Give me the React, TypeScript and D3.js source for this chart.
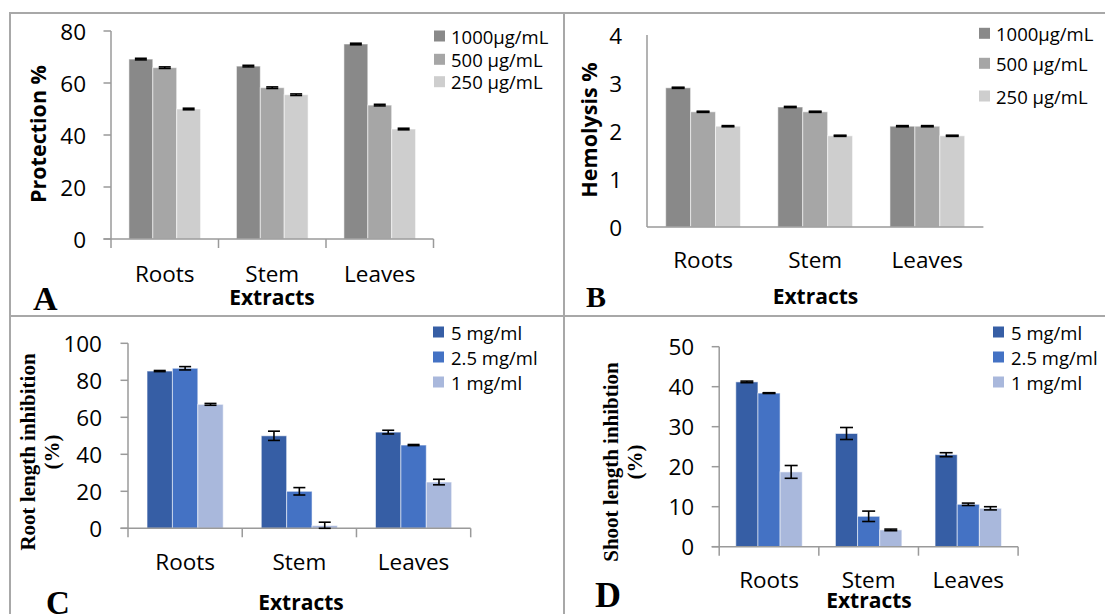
import React from "react";
import * as d3 from "d3";

// Plant part extracts shared by every panel
const extracts = ["Roots", "Stem", "Leaves"];

// A: protection % at three concentrations
const protectionSeries = ["1000µg/mL", "500 µg/mL", "250 µg/mL"];
const protection1000 = [69.2, 66.5, 75.0];
const protection500 = [65.9, 58.2, 51.5];
const protection250 = [50.0, 55.5, 42.3];
const protectionErr = [0.3, 0.3, 0.3];

// B: hemolysis %
const hemolysis1000 = [2.9, 2.5, 2.1];
const hemolysis500 = [2.4, 2.4, 2.1];
const hemolysis250 = [2.1, 1.9, 1.9];
const hemolysisErr = [0.012, 0.012, 0.012];

// C: root length inhibition (%)
const doseSeries = ["5 mg/ml", "2.5 mg/ml", "1 mg/ml"];
const root5 = [85.0, 50.0, 52.0];
const root2_5 = [86.5, 20.0, 45.0];
const root1 = [67.0, 1.5, 25.0];
const root5Err = [0.3, 2.5, 1.0];
const root2_5Err = [0.9, 2.0, 0.3];
const root1Err = [0.5, 1.8, 1.5];

// D: shoot length inhibition (%)
const shoot5 = [41.2, 28.3, 23.0];
const shoot2_5 = [38.4, 7.6, 10.6];
const shoot1 = [18.7, 4.2, 9.6];
const shoot5Err = [0.2, 1.5, 0.5];
const shoot2_5Err = [0.1, 1.3, 0.3];
const shoot1Err = [1.6, 0.2, 0.4];

const greyColors = ["#898989", "#a6a6a6", "#cecece"];
const blueColors = ["#365ea5", "#4472c4", "#a9b8dc"];

const SANS = "'Open Sans', Lato, sans-serif";
const SERIF = "'Liberation Serif', 'DejaVu Serif', serif";

type Series = { name: string; values: number[]; err: number[]; color: string };

type PanelProps = {
  series: Series[];
  left: number;
  right: number;
  top: number;
  bottom: number;
  yMax: number;
  yStep: number;
  showTicks: boolean;
  tickLabelGap: number;
  catLabelDy: number;
  capWidth: number;
  legendX: number;
  legendY: number[];
  legendTextX: number;
};

function BarPanel(p: PanelProps) {
  const x0 = d3.scaleBand<string>().domain(extracts).range([p.left, p.right]).padding(0);
  const x1 = d3
    .scaleBand<string>()
    .domain(p.series.map((s) => s.name))
    .range([0, x0.bandwidth()])
    .paddingInner(0)
    .paddingOuter(0.75);
  const y = d3.scaleLinear().domain([0, p.yMax]).range([p.bottom, p.top]);
  const yTicks = d3.range(0, p.yMax + p.yStep / 2, p.yStep);
  const tickLen = p.showTicks ? 7.5 : 0;
  const axisColor = "#9a9a9a";
  const catEdges = [...extracts.map((c) => x0(c)!), p.right];

  return (
    <g>
      {/* bars */}
      {p.series.map((s) =>
        extracts.map((c, i) => {
          const bx = x0(c)! + x1(s.name)!;
          const by = y(s.values[i]);
          return (
            <rect
              key={s.name + c}
              x={bx}
              y={by}
              width={x1.bandwidth()}
              height={p.bottom - by}
              fill={s.color}
              stroke="#ffffff"
              strokeOpacity={0.55}
              strokeWidth={1}
            />
          );
        })
      )}
      {/* axes */}
      <line x1={p.left} x2={p.left} y1={p.top} y2={p.bottom} stroke={axisColor} strokeWidth={1.5} />
      <line x1={p.left - tickLen} x2={p.right} y1={p.bottom} y2={p.bottom} stroke={axisColor} strokeWidth={1.5} />
      {p.showTicks &&
        yTicks.map((t) => (
          <line key={"yt" + t} x1={p.left - tickLen} x2={p.left} y1={y(t)} y2={y(t)} stroke={axisColor} strokeWidth={1.5} />
        ))}
      {p.showTicks &&
        catEdges.map((cx, i) => (
          <line key={"xt" + i} x1={cx} x2={cx} y1={p.bottom} y2={p.bottom + 9} stroke={axisColor} strokeWidth={1.5} />
        ))}
      {/* error bars */}
      {p.series.map((s) =>
        extracts.map((c, i) => {
          const cx = x0(c)! + x1(s.name)! + x1.bandwidth() / 2;
          const hi = y(s.values[i] + s.err[i]);
          const lo = y(Math.max(0, s.values[i] - s.err[i]));
          const hw = p.capWidth / 2;
          return (
            <g key={"e" + s.name + c} stroke="#000" strokeWidth={1.6}>
              <line x1={cx} x2={cx} y1={hi} y2={lo} />
              <line x1={cx - hw} x2={cx + hw} y1={hi} y2={hi} />
              <line x1={cx - hw} x2={cx + hw} y1={lo} y2={lo} />
            </g>
          );
        })
      )}
      {/* tick labels */}
      {yTicks.map((t) => (
        <text
          key={"yl" + t}
          x={p.left - p.tickLabelGap}
          y={y(t)}
          textAnchor="end"
          dominantBaseline="central"
          fontFamily={SANS}
          fontSize={22.5}
          fill="#000"
        >
          {d3.format("d")(t)}
        </text>
      ))}
      {extracts.map((c) => (
        <text
          key={"xl" + c}
          x={x0(c)! + x0.bandwidth() / 2}
          y={p.bottom + p.catLabelDy}
          textAnchor="middle"
          fontFamily={SANS}
          fontSize={22.5}
          fill="#000"
        >
          {c}
        </text>
      ))}
      {/* legend */}
      {p.series.map((s, i) => (
        <g key={"lg" + s.name}>
          <rect x={p.legendX} y={p.legendY[i] - 5.5} width={11} height={11} fill={s.color} />
          <text
            x={p.legendTextX}
            y={p.legendY[i]}
            dominantBaseline="central"
            fontFamily={SANS}
            fontSize={18.5}
            fill="#000"
          >
            {s.name}
          </text>
        </g>
      ))}
    </g>
  );
}

function mk(names: string[], vals: number[][], errs: number[][], colors: string[]): Series[] {
  return names.map((n, i) => ({ name: n, values: vals[i], err: errs[i], color: colors[i] }));
}

export default function App() {
  const seriesA = mk(protectionSeries, [protection1000, protection500, protection250], [protectionErr, protectionErr, protectionErr], greyColors);
  const seriesB = mk(protectionSeries, [hemolysis1000, hemolysis500, hemolysis250], [hemolysisErr, hemolysisErr, hemolysisErr], greyColors);
  const seriesC = mk(doseSeries, [root5, root2_5, root1], [root5Err, root2_5Err, root1Err], blueColors);
  const seriesD = mk(doseSeries, [shoot5, shoot2_5, shoot1], [shoot5Err, shoot2_5Err, shoot1Err], blueColors);
  const border = "#a8a8a8";

  return (
    <div style={{ position: "absolute", left: 0, top: 0 }}>
      <svg width={1105} height={614} style={{ display: "block", background: "#fff" }}>
        <rect x={0} y={0} width={1105} height={614} fill="#fff" />
        {/* panel frame */}
        <line x1={9} x2={1105} y1={13} y2={13} stroke={border} strokeWidth={2} />
        <line x1={9} x2={1105} y1={316} y2={316} stroke={border} strokeWidth={2} />
        <line x1={10} x2={10} y1={12} y2={614} stroke={border} strokeWidth={2} />
        <line x1={564} x2={564} y1={12} y2={614} stroke={border} strokeWidth={2} />

        {/* A */}
        <BarPanel
          series={seriesA}
          left={111}
          right={433.5}
          top={31}
          bottom={239}
          yMax={80}
          yStep={20}
          showTicks={true}
          tickLabelGap={25}
          catLabelDy={43}
          capWidth={12}
          legendX={434}
          legendY={[36, 59.3, 81.7]}
          legendTextX={451}
        />
        <text transform="translate(37.5,134) rotate(-90)" textAnchor="middle" dominantBaseline="central" fontFamily={SANS} fontWeight="bold" fontSize={21.5}>
          Protection %
        </text>
        <text x={272} y={305} textAnchor="middle" fontFamily={SANS} fontWeight="bold" fontSize={21}>
          Extracts
        </text>
        <text x={33} y={310} fontFamily={SERIF} fontWeight="bold" fontSize={34}>
          A
        </text>

        {/* B */}
        <BarPanel
          series={seriesB}
          left={647}
          right={983.4}
          top={35}
          bottom={227}
          yMax={4}
          yStep={1}
          showTicks={false}
          tickLabelGap={25}
          catLabelDy={41}
          capWidth={13}
          legendX={979}
          legendY={[33.3, 63.3, 96]}
          legendTextX={996}
        />
        <text transform="translate(588,130) rotate(-90)" textAnchor="middle" dominantBaseline="central" fontFamily={SANS} fontWeight="bold" fontSize={21.5}>
          Hemolysis %
        </text>
        <text x={815.5} y={304} textAnchor="middle" fontFamily={SANS} fontWeight="bold" fontSize={21}>
          Extracts
        </text>
        <text x={586} y={307} fontFamily={SERIF} fontWeight="bold" fontSize={30}>
          B
        </text>

        {/* C */}
        <BarPanel
          series={seriesC}
          left={128}
          right={470.7}
          top={343.3}
          bottom={528.3}
          yMax={100}
          yStep={20}
          showTicks={true}
          tickLabelGap={26}
          catLabelDy={42}
          capWidth={12}
          legendX={433}
          legendY={[332, 357, 382]}
          legendTextX={451}
        />
        <text transform="translate(27.9,452) rotate(-90)" textAnchor="middle" dominantBaseline="central" fontFamily={SERIF} fontWeight="bold" fontSize={21}>
          Root length inhibition
        </text>
        <text transform="translate(51.8,452) rotate(-90)" textAnchor="middle" dominantBaseline="central" fontFamily={SERIF} fontWeight="bold" fontSize={21}>
          (%)
        </text>
        <text x={301} y={610} textAnchor="middle" fontFamily={SANS} fontWeight="bold" fontSize={21}>
          Extracts
        </text>
        <text x={46} y={614} fontFamily={SERIF} fontWeight="bold" fontSize={33}>
          C
        </text>

        {/* D */}
        <BarPanel
          series={seriesD}
          left={719.2}
          right={1018.1}
          top={346.7}
          bottom={546.7}
          yMax={50}
          yStep={10}
          showTicks={true}
          tickLabelGap={25}
          catLabelDy={41}
          capWidth={13}
          legendX={993}
          legendY={[332, 357, 382]}
          legendTextX={1011}
        />
        <text transform="translate(611.4,462) rotate(-90)" textAnchor="middle" dominantBaseline="central" fontFamily={SERIF} fontWeight="bold" fontSize={21}>
          Shoot length inhibtion
        </text>
        <text transform="translate(634.7,462) rotate(-90)" textAnchor="middle" dominantBaseline="central" fontFamily={SERIF} fontWeight="bold" fontSize={21}>
          (%)
        </text>
        <text x={869} y={608} textAnchor="middle" fontFamily={SANS} fontWeight="bold" fontSize={21}>
          Extracts
        </text>
        <text x={595} y={607} fontFamily={SERIF} fontWeight="bold" fontSize={36}>
          D
        </text>
      </svg>
    </div>
  );
}
